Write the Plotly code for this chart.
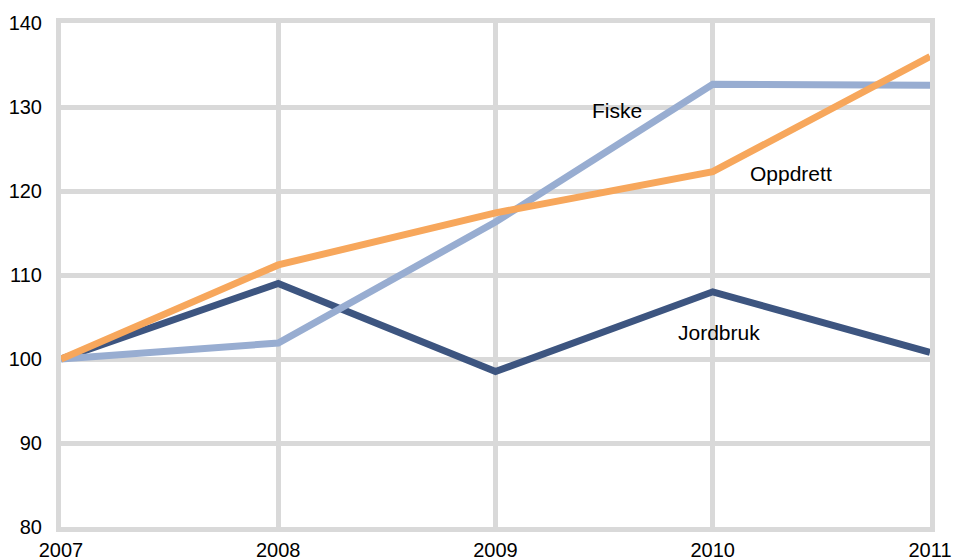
import plotly.graph_objects as go

years = [2007, 2008, 2009, 2010, 2011]
jordbruk = [100, 109.0, 98.5, 108.0, 100.8]
fiske = [100, 101.9, 116.3, 132.7, 132.6]
oppdrett = [100, 111.2, 117.4, 122.3, 136.0]

series_names = ["Jordbruk", "Fiske", "Oppdrett"]
colors = ["#3d5580", "#98add1", "#f7a75c"]
label_x = [2010.03, 2009.56, 2010.36]
label_y = [103.2, 129.6, 122.1]

fig = go.Figure()
for name, vals, col in zip(series_names, [jordbruk, fiske, oppdrett], colors):
    fig.add_trace(go.Scatter(x=years, y=vals, mode="lines", name=name,
                             line=dict(color=col, width=7), cliponaxis=False))

for name, lx, ly in zip(series_names, label_x, label_y):
    fig.add_annotation(x=lx, y=ly, text=name, showarrow=False,
                       font=dict(size=21, color="#000000"))

grid = "#d9d9d9"
fig.update_layout(
    width=953, height=559,
    margin=dict(l=61, r=23, t=23, b=32),
    plot_bgcolor="white", paper_bgcolor="white",
    showlegend=False,
    font=dict(family="Liberation Sans, Arial, sans-serif", size=20, color="#000000"),
    xaxis=dict(range=[2007, 2011], tickvals=years, ticktext=[str(y) for y in years],
               showgrid=True, gridcolor=grid, gridwidth=5,
               showline=True, linecolor=grid, linewidth=5, mirror=True,
               ticks="", zeroline=False, ticklabelstandoff=1, automargin=False),
    yaxis=dict(range=[80, 140], dtick=10, tick0=80,
               showgrid=True, gridcolor=grid, gridwidth=5,
               showline=True, linecolor=grid, linewidth=5, mirror=True,
               ticks="", zeroline=False, ticklabelstandoff=10, automargin=False),
)
fig.write_html("out.html", config={"displayModeBar": False},
               post_script="document.body.style.margin='0';document.body.style.overflow='hidden';")
